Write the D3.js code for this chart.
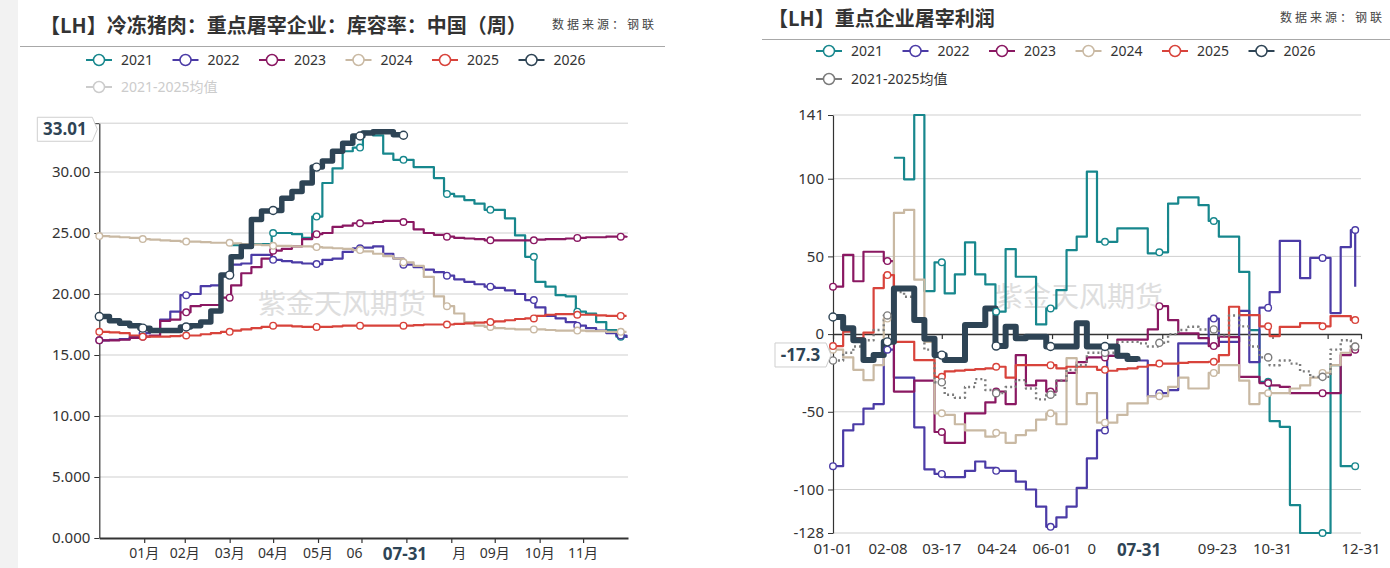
<!DOCTYPE html>
<html><head><meta charset="utf-8">
<script src="https://cdn.jsdelivr.net/npm/d3@7"></script>
<style>
html,body{margin:0;padding:0;background:#fff;overflow:hidden;}
svg{display:block;}
</style></head><body>
<svg id="c" width="1390" height="568"></svg>
<script>
// ---------------- DATA ----------------
const years = ["2021","2022","2023","2024","2025","2026"];
const avgName = "2021-2025均值";
const latestDate = "07-31";
const latestDay = 211;

// Left chart: 冷冻猪肉库容率 (%), weekly values (week 0..52)
const cold2021 = [null,null,null,null,null,null,null,null,null,null,null,null,null,
  24.0,24.0,24.1,24.1,25.0,25.0,24.9,24.6,26.35,29.1,30.3,31.7,32.0,33.3,33.0,31.5,31.0,31.0,
  30.4,30.4,29.5,28.2,28.0,27.7,27.4,26.9,26.9,26.2,24.8,23.05,21.0,20.6,19.9,19.8,18.55,18.4,17.7,17.05,16.5,16.5];
const cold2022 = [16.2,16.25,16.3,16.5,16.8,16.9,17.9,18.55,19.9,20.0,20.65,20.7,21.55,22.4,22.5,23.2,23.2,22.8,22.7,22.6,
  22.5,22.45,22.8,22.9,23.45,23.75,23.8,23.9,23.3,22.9,22.4,22.2,22.0,21.8,21.5,21.2,21.0,20.8,20.6,20.5,
  20.3,20.0,19.5,18.9,18.2,18.0,17.7,17.4,17.2,17.0,16.8,16.6,16.4];
const cold2023 = [16.2,16.2,16.25,16.4,16.5,16.6,17.8,17.9,18.5,19.0,19.1,19.1,19.7,20.7,21.7,22.2,22.9,23.55,23.7,23.9,
  24.5,24.9,25.0,25.5,25.6,25.8,25.8,25.9,26.0,26.0,25.9,25.3,25.0,24.85,24.7,24.6,24.55,24.5,24.4,24.4,
  24.4,24.4,24.4,24.45,24.5,24.5,24.55,24.6,24.65,24.65,24.7,24.7,24.75];
const cold2024 = [24.75,24.7,24.65,24.6,24.5,24.45,24.4,24.35,24.3,24.3,24.25,24.2,24.2,24.15,24.1,24.05,24.0,23.95,
  23.95,23.9,23.9,23.85,23.8,23.75,23.7,23.6,23.5,23.3,23.1,22.9,22.6,22.3,21.4,19.8,19.0,18.4,17.7,17.4,17.3,17.2,
  17.15,17.1,17.1,17.1,17.05,17.0,17.0,17.0,16.95,16.95,16.9,16.9,16.9];
const cold2025 = [16.9,16.85,16.8,16.6,16.5,16.5,16.5,16.55,16.6,16.6,16.7,16.8,16.9,17.0,17.1,17.2,17.3,17.4,17.4,
  17.35,17.3,17.3,17.3,17.35,17.4,17.4,17.4,17.4,17.4,17.4,17.4,17.45,17.5,17.5,17.5,17.55,17.6,17.65,17.7,
  17.75,17.85,17.95,18.0,18.2,18.3,18.35,18.35,18.3,18.3,18.25,18.2,18.2,18.2];
const cold2026 = [18.15,17.8,17.6,17.4,17.2,17.0,17.0,17.0,17.3,17.4,17.7,18.6,21.55,23.05,23.9,26.1,26.8,26.85,27.85,
  28.4,29.1,30.4,30.9,31.7,32.35,32.95,33.2,33.3,33.3,33.05,33.01];
const coldYTicks = [0,5,10,15,20,25,30,34];
const coldYLabels = ["0.000","5.000","10.00","15.00","20.00","25.00","30.00",""];
const coldXTickDays = [31,59,90,120,151,181,212,243,273,304,334];
const coldXLabels = ["01月","02月","03月","04月","05月","06月","07月","08月","09月","10月","11月"];
const coldMarkerDays = [0,30,60,90,120,150,180,210,240,270,300,330,360];

// Right chart: 重点企业屠宰利润 (元/头), weekly values (week 0..52)
const profit2021 = [null,null,null,null,null,null,
  113.5,99.6,141,27.7,46.2,26.2,38.4,59,38.4,32,14.4,54.7,36.9,36.9,6.2,16.5,28.3,54,62.7,104.5,59.4,59.4,68,68,68,
  52,52.6,84,88,88,83,72.8,62.7,62.7,40,2.6,-30.7,-56,-59.7,-110,-128,-128,-128,-20,-85,-85,-85];
const profit2022 = [-85,-62,-58,-48,-45,-10,-28,-28,-60,-87,-90,-92,-92,-88,-82,-86,-88,-88,-95,-100,
  -111,-124,-118,-111,-99,-80,-62,-14,-15,-17,-17,-40,-38,-36,-6,-6,-6,10,-5,-5,
  15,-18,17,27,60,60,36,49,49,13.5,56,67,30.5];
const profit2023 = [30.5,51,34,53,53,47,-37,-37,-30,-30,-63,-70,-70,-51,-51,-44,-37,-45,-13.5,-33,
  -30,-37,-30,-25,-18,-15,-15,-14,-3.5,-3.5,-3.5,3,18,9,0.5,0.5,-2.6,-7.7,-1.7,-2,
  -27.5,-27.5,-31.5,-33,-34,-38,-38,-38,-38,-38,-13.5,-10,-10];
const profit2024 = [-10,-15,-23,-29.6,-20,10,78,80,35,-5,-51,-52,-58,-62,-62,-66,-63.5,-70,-65,-62,
  -55,-51,-58,-15.5,-45,-38,-57,-57,-52,-44.6,-44.6,-40,-40,-34,-28,-35,-35,-25,-20,-20,
  -30,-45,-38,-38,-38,-35,-33,-28,-25,-20,-12,-8,-8];
const profit2025 = [-7.7,1.5,-2.6,1,29.6,38,-5,-5,-16.7,-16.7,-27.5,-24,-23.5,-23,-22.5,-22,-21,-28,-20,-20,
  -20,-20,-22,-21,-21,-21,-23,-23.6,-22.5,-22,-21,-20,-19,-19,-18.5,-18,-18,-17.8,-13.5,17.6,
  12.2,12.2,5,-1.3,4.7,4.7,7,7,5,11.6,11.6,9,7.7];
const profit2026 = [11,3.7,-3.9,-16.7,-13.5,-5,29.4,29.4,9,-3,-13.5,-16.7,-16.7,5.8,5.8,16.5,-7.7,4.7,-2.6,-1.7,
  -1.7,-8,-8,-8,7,-8,-8,-8,-14,-16,-17.3];
const profitAvg = [-17,-12,-8,-4,2.6,12,27,24,9,-10,-31,-39,-41,-34,-29,-36,-38,-34,-29.6,-35,
  -42,-39,-30,-23,-20,-12,-12,-12,-5,-5,-6,-8,-5.6,0,2.6,4.7,3,3,-1,12,
  5,-8,-15,-20,-17,-19,-24,-27.5,-27.5,-10,-4,-8,-12];
const profitYTicks = [-128,-100,-50,0,50,100,141];
const profitYLabels = ["-128","-100","-50","0","50","100","141"];
const profitXTickDays = [0,38,75,113,151,189,227,265,303,341,364];
const profitXLabels = ["01-01","02-08","03-17","04-24","06-01","07-09","08-16","09-23","10-31","12-08","12-31"];
const profitHiddenLabels = ["12-08"];
const profitMarkerDays = [0,37.5,75,112.5,150,187.5,225,262.5,300,337.5,360];

// ---------------- STYLE ----------------
const colors = ["#17878d","#4b3ba6","#8a1862","#c9b9a3","#d8433b","#2e4455"];
const avgColor = "#7c7c7c";
const FONT = '"Noto Sans","Noto Sans CJK SC",sans-serif';
const CJK = '"Noto Sans CJK SC","Noto Sans",sans-serif';

const svg = d3.select("#c");
svg.append("rect").attr("x",0).attr("y",0).attr("width",18).attr("height",568).attr("fill","#f2f2f2");

function header(x, yBase, title, srcX, lineX0, lineX1, lineY) {
  svg.append("text").attr("x",x).attr("y",yBase).text(title)
    .attr("font-family",CJK).attr("font-weight",700).attr("font-size",20).attr("fill","#333");
  svg.append("text").attr("x",srcX).attr("y",yBase-4).text("数据来源：钢联")
    .attr("font-family",CJK).attr("font-size",12).attr("letter-spacing",3).attr("fill","#444");
  svg.append("line").attr("x1",lineX0).attr("x2",lineX1).attr("y1",lineY).attr("y2",lineY)
    .attr("stroke","#a8a8a8").attr("stroke-width",1);
}

function legend(x0, y0, y1, avgEnabled) {
  const g = svg.append("g");
  const step = 86.5;
  const items = years.map((name,i)=>({name, color:colors[i], x:x0+i*step, y:y0, on:true}));
  items.push({name:avgName, color:avgEnabled?avgColor:"#cccccc", x:x0, y:y1, on:avgEnabled});
  items.forEach(it=>{
    g.append("line").attr("x1",it.x).attr("x2",it.x+26).attr("y1",it.y).attr("y2",it.y)
      .attr("stroke",it.color).attr("stroke-width",2);
    g.append("circle").attr("cx",it.x+13).attr("cy",it.y).attr("r",5.5)
      .attr("fill","#fff").attr("stroke",it.color).attr("stroke-width",1.5);
    g.append("text").attr("x",it.x+35).attr("y",it.y).attr("dy","0.36em").text(it.name)
      .attr("font-family",FONT).attr("font-size",14).attr("fill",it.on?"#333":"#cccccc");
  });
}

// keep only the characters of a centred label that lie outside [boxL, boxR]
function visiblePieces(t, cx, fontSize, boxL, boxR) {
  const m = svg.append("text").attr("font-family",FONT).attr("font-size",fontSize).attr("visibility","hidden");
  const wOf = s => { m.text(s); return s ? m.node().getComputedTextLength() : 0; };
  const W = wOf(t), start = cx - W/2, end = cx + W/2;
  const out = [];
  if (end <= boxL || start >= boxR) { m.remove(); return [{t, x:cx, anchor:"middle"}]; }
  let pre = "";
  for (let k=1;k<=t.length;k++){ if (start + wOf(t.slice(0,k)) <= boxL) pre = t.slice(0,k); }
  let suf = "";
  for (let k=1;k<=t.length;k++){ if (end - wOf(t.slice(t.length-k)) >= boxR) suf = t.slice(t.length-k); }
  if (pre) out.push({t:pre, x:start, anchor:"start"});
  if (suf) out.push({t:suf, x:end, anchor:"end"});
  m.remove();
  return out;
}

function panel(p) {
  const g = svg.append("g");
  const x = d3.scaleLinear().domain(p.xDomain).range(p.xRange);
  const y = d3.scaleLinear().domain(p.yDomain).range(p.yRange);

  g.selectAll("line.grid").data(p.yTicks.filter(v=>v!==p.axisAt)).join("line").attr("class","grid")
    .attr("x1",p.xRange[0]).attr("x2",p.xRange[1]).attr("y1",d=>y(d)).attr("y2",d=>y(d))
    .attr("stroke","#cfcfcf").attr("stroke-width",1);

  g.append("text").attr("x",p.wmX).attr("y",y(p.wmV)).attr("dy","0.35em").text("紫金天风期货")
    .attr("font-family",CJK).attr("font-size",28).attr("fill","#d4d4d4").attr("opacity",0.75);

  const ya = g.append("g").attr("transform",`translate(${p.xRange[0]},0)`)
    .call(d3.axisLeft(y).tickValues(p.yTicks).tickFormat((d,i)=>p.yLabels[i]).tickSize(5).tickSizeOuter(0).tickPadding(4));
  ya.select(".domain").attr("stroke","#333").attr("stroke-width",1.2);
  ya.selectAll(".tick line").attr("stroke","#333");
  ya.selectAll("text").attr("font-family",FONT).attr("font-size",p.yFont).attr("fill","#333");

  const xa = g.append("g").attr("transform",`translate(0,${y(p.axisAt)})`)
    .call(d3.axisBottom(x).tickValues(p.xTicks).tickFormat("").tickSize(5).tickSizeOuter(0));
  xa.select(".domain").attr("stroke","#333").attr("stroke-width",p.axisWidth);
  xa.selectAll(".tick line").attr("stroke","#333").attr("stroke-width",1.2);

  // bottom labels, partly hidden behind the date tag
  const tx = x(latestDay);
  const boxL = tx - p.boxLeft, boxR = tx + p.boxRight;
  p.xTicks.forEach((d,i)=>{
    const t = p.xLabels[i];
    if (p.hidden.includes(t)) return;
    visiblePieces(t, x(d), p.xFont, boxL, boxR).forEach(o=>{
      g.append("text").attr("x",o.x).attr("y",p.xLabelY).attr("dy","0.35em").attr("text-anchor",o.anchor).text(o.t)
        .attr("font-family",FONT).attr("font-size",p.xFont).attr("fill","#333");
    });
  });

  const line = d3.line().defined(d=>d.v!=null).x(d=>x(d.day)).y(d=>y(d.v)).curve(d3.curveStepAfter);
  p.series.forEach(s=>{
    const pts = s.values.map((v,i)=>({day:Math.min(i*7,p.lastDay), v}));
    g.append("path").datum(pts).attr("d",line).attr("fill","none")
      .attr("stroke",s.color).attr("stroke-width",s.width).attr("stroke-linejoin","round")
      .attr("stroke-dasharray",s.dash||null);
  });
  p.series.forEach(s=>{
    const mk = p.markerDays.map(d=>({day:d, v:s.values[Math.floor(d/7)]})).filter(o=>o.v!=null);
    g.selectAll(null).data(mk).join("circle")
      .attr("cx",o=>x(o.day)).attr("cy",o=>y(o.v)).attr("r",s.r)
      .attr("fill","#fff").attr("stroke",s.color).attr("stroke-width",1.4);
  });

  // y value tag (latest 2026 value)
  const ty = y(p.tagValue) - 6;
  const right = p.xRange[0] - 7, w = p.tagW, h = 24;
  g.append("path").attr("d",`M${right-w},${ty-h/2}H${right}L${right+5},${ty}L${right},${ty+h/2}H${right-w}Z`)
    .attr("fill","#fff").attr("stroke","#cfcfcf").attr("stroke-width",1);
  g.append("text").attr("x",right-w/2).attr("y",ty).attr("dy","0.36em").attr("text-anchor","middle")
    .text(p.tagText).attr("font-family",FONT).attr("font-weight",700).attr("font-size",17).attr("fill","#2e4455");

  // x date tag
  g.append("text").attr("x",tx).attr("y",p.xLabelY+1).attr("dy","0.36em").attr("text-anchor","middle")
    .text(latestDate).attr("font-family",FONT).attr("font-weight",700).attr("font-size",17).attr("fill","#2e4455");
}

// ---------------- LEFT ----------------
header(40, 33, "【LH】冷冻猪肉：重点屠宰企业：库容率：中国（周）", 552, 20, 665, 46.5);
legend(86, 60, 87, false);
const coldSeries = [cold2021,cold2022,cold2023,cold2024,cold2025,cold2026]
  .map((v,i)=>({values:v, color:colors[i], width:i===5?5.5:2.2, r:i===5?4:3.3}));
panel({
  xDomain:[0,365], xRange:[99.3,628], yDomain:[0,34], yRange:[538,123.2],
  yTicks:coldYTicks, yLabels:coldYLabels, axisAt:0, axisWidth:2,
  xTicks:coldXTickDays, xLabels:coldXLabels, hidden:[], xLabelY:553, xFont:14, yFont:15,
  series:coldSeries, markerDays:coldMarkerDays, lastDay:364,
  tagValue:cold2026[cold2026.length-1], tagText:d3.format(".2f")(cold2026[cold2026.length-1]), tagW:55,
  boxLeft:42, boxRight:45, wmX:258, wmV:19.2
});

// ---------------- RIGHT ----------------
header(768, 26, "【LH】重点企业屠宰利润", 1280, 762, 1390, 39.5);
legend(816, 51, 79, true);
const profitSeries = [profit2021,profit2022,profit2023,profit2024,profit2025]
  .map((v,i)=>({values:v, color:colors[i], width:2.2, r:3.3}));
profitSeries.push({values:profitAvg, color:avgColor, width:2.4, r:3.6, dash:"2,3"});
profitSeries.push({values:profit2026, color:colors[5], width:6, r:4});
panel({
  xDomain:[0,364], xRange:[833,1361], yDomain:[-128,141], yRange:[533,115],
  yTicks:profitYTicks, yLabels:profitYLabels, axisAt:0, axisWidth:1.5,
  xTicks:profitXTickDays, xLabels:profitXLabels, hidden:profitHiddenLabels, xLabelY:549, xFont:15, yFont:15,
  series:profitSeries, markerDays:profitMarkerDays, lastDay:360,
  tagValue:profit2026[profit2026.length-1], tagText:String(profit2026[profit2026.length-1]), tagW:51,
  boxLeft:42, boxRight:42, wmX:995, wmV:24
});
</script>
</body></html>
